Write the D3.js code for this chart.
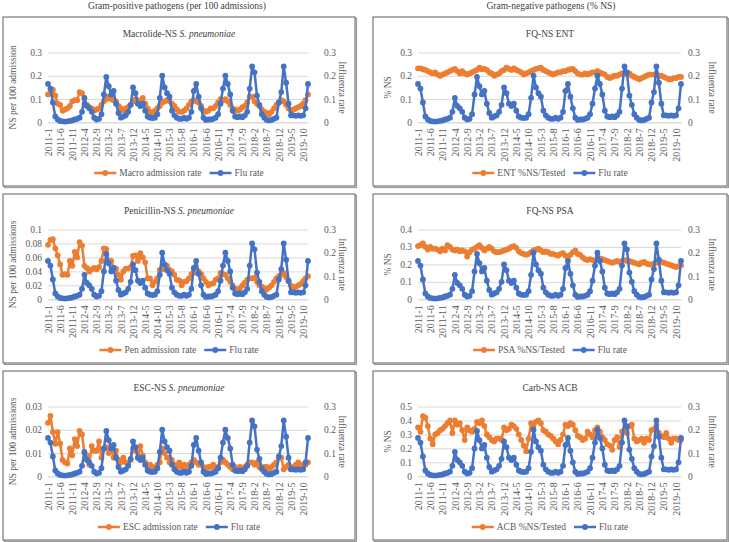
<!DOCTYPE html>
<html><head><meta charset="utf-8">
<script src="https://cdn.jsdelivr.net/npm/d3@7"></script>
<style>
body{margin:0;background:#fff;}
svg text{font-family:"Liberation Serif","Times New Roman","DejaVu Serif","Noto Serif",serif !important;}
</style></head>
<body><svg id="c" width="729" height="542"></svg>
<script>
// Monthly categories 2011-1 .. 2019-12
const years = [2011,2012,2013,2014,2015,2016,2017,2018,2019];
const months = [];
years.forEach(y => { for (let m = 1; m <= 12; m++) months.push(y + "-" + m); });

const tickLabels = ["2011-1","2011-6","2011-11","2012-4","2012-9","2013-2","2013-7","2013-12","2014-5","2014-10","2015-3","2015-8","2016-1","2016-6","2016-11","2017-4","2017-9","2018-2","2018-7","2018-12","2019-5","2019-10"];

// Influenza rate (secondary axis, same in every panel)
const fluRate = [
 0.165,0.145,0.085,0.025,0.012,0.006,0.004,0.003,0.004,0.006,0.008,0.012,
 0.015,0.020,0.045,0.105,0.070,0.060,0.045,0.020,0.012,0.015,0.035,0.120,
 0.195,0.155,0.120,0.135,0.080,0.040,0.020,0.025,0.030,0.045,0.075,0.150,
 0.125,0.080,0.070,0.080,0.050,0.025,0.020,0.018,0.020,0.035,0.105,0.200,
 0.150,0.125,0.110,0.050,0.030,0.020,0.015,0.015,0.020,0.015,0.020,0.045,
 0.135,0.165,0.110,0.060,0.020,0.010,0.012,0.012,0.015,0.020,0.035,0.080,
 0.145,0.200,0.165,0.120,0.050,0.025,0.022,0.025,0.022,0.030,0.045,0.145,
 0.240,0.215,0.115,0.075,0.035,0.020,0.010,0.008,0.010,0.015,0.020,0.085,
 0.130,0.240,0.170,0.080,0.030,0.030,0.028,0.030,0.028,0.030,0.060,0.165
];

const macroRate = [
 0.120,0.125,0.140,0.115,0.080,0.075,0.050,0.055,0.060,0.070,0.090,0.095,
 0.095,0.130,0.125,0.080,0.075,0.065,0.060,0.050,0.055,0.060,0.075,0.090,
 0.100,0.110,0.100,0.095,0.090,0.070,0.060,0.050,0.060,0.065,0.075,0.090,
 0.100,0.095,0.090,0.105,0.080,0.060,0.045,0.040,0.050,0.060,0.070,0.085,
 0.090,0.095,0.090,0.080,0.070,0.055,0.045,0.045,0.050,0.060,0.075,0.090,
 0.095,0.090,0.085,0.070,0.050,0.045,0.050,0.060,0.060,0.070,0.085,0.100,
 0.095,0.100,0.090,0.075,0.060,0.055,0.050,0.055,0.065,0.070,0.085,0.110,
 0.110,0.090,0.080,0.070,0.055,0.045,0.040,0.035,0.045,0.060,0.075,0.085,
 0.095,0.090,0.075,0.060,0.050,0.055,0.060,0.065,0.070,0.080,0.095,0.120
];

const penRate = [
 0.078,0.085,0.086,0.073,0.063,0.050,0.035,0.036,0.035,0.055,0.048,0.068,
 0.060,0.082,0.077,0.048,0.045,0.040,0.043,0.045,0.043,0.046,0.055,0.073,
 0.072,0.055,0.055,0.045,0.044,0.035,0.028,0.040,0.044,0.044,0.046,0.062,
 0.063,0.055,0.066,0.060,0.053,0.030,0.030,0.020,0.025,0.030,0.042,0.043,
 0.045,0.048,0.042,0.040,0.035,0.028,0.027,0.020,0.025,0.026,0.030,0.036,
 0.040,0.038,0.040,0.036,0.030,0.025,0.020,0.022,0.023,0.028,0.030,0.038,
 0.036,0.035,0.030,0.025,0.020,0.015,0.014,0.016,0.020,0.024,0.028,0.030,
 0.030,0.031,0.025,0.020,0.018,0.016,0.014,0.017,0.020,0.025,0.030,0.033,
 0.035,0.038,0.032,0.026,0.020,0.016,0.018,0.020,0.022,0.026,0.030,0.033
];

const escRate = [
 0.0230,0.0260,0.0190,0.0140,0.0190,0.0140,0.0070,0.0060,0.0055,0.0120,0.0090,0.0160,
 0.0130,0.0195,0.0180,0.0100,0.0090,0.0050,0.0130,0.0110,0.0110,0.0150,0.0080,0.0120,
 0.0125,0.0100,0.0110,0.0080,0.0110,0.0070,0.0060,0.0080,0.0060,0.0050,0.0070,0.0120,
 0.0110,0.0080,0.0130,0.0090,0.0060,0.0040,0.0050,0.0040,0.0030,0.0050,0.0060,0.0120,
 0.0100,0.0080,0.0060,0.0070,0.0050,0.0040,0.0060,0.0040,0.0050,0.0030,0.0050,0.0060,
 0.0070,0.0060,0.0050,0.0050,0.0040,0.0030,0.0040,0.0040,0.0050,0.0030,0.0040,0.0060,
 0.0070,0.0060,0.0050,0.0040,0.0030,0.0040,0.0030,0.0040,0.0030,0.0040,0.0050,0.0060,
 0.0060,0.0050,0.0060,0.0040,0.0030,0.0040,0.0040,0.0030,0.0040,0.0050,0.0060,0.0080,
 0.0080,0.0030,0.0040,0.0050,0.0030,0.0040,0.0050,0.0060,0.0050,0.0040,0.0050,0.0060
];

const entPct = [
 0.232,0.232,0.228,0.225,0.220,0.215,0.210,0.215,0.205,0.200,0.205,0.210,
 0.215,0.220,0.225,0.230,0.220,0.210,0.220,0.210,0.205,0.210,0.215,0.220,
 0.225,0.235,0.228,0.230,0.225,0.215,0.210,0.200,0.205,0.210,0.220,0.225,
 0.235,0.230,0.225,0.232,0.225,0.220,0.215,0.205,0.210,0.215,0.220,0.225,
 0.230,0.232,0.235,0.225,0.220,0.215,0.210,0.205,0.210,0.215,0.215,0.220,
 0.220,0.225,0.228,0.230,0.220,0.210,0.205,0.205,0.210,0.205,0.210,0.215,
 0.215,0.220,0.215,0.210,0.205,0.195,0.190,0.195,0.200,0.200,0.205,0.210,
 0.210,0.205,0.210,0.200,0.195,0.190,0.185,0.190,0.195,0.200,0.205,0.205,
 0.205,0.210,0.200,0.200,0.195,0.190,0.185,0.185,0.190,0.190,0.195,0.195
];

const psaPct = [
 0.305,0.310,0.320,0.300,0.285,0.300,0.290,0.290,0.285,0.275,0.290,0.280,
 0.310,0.300,0.285,0.280,0.285,0.275,0.280,0.275,0.245,0.270,0.285,0.290,
 0.300,0.310,0.295,0.280,0.290,0.300,0.290,0.275,0.270,0.270,0.275,0.280,
 0.285,0.290,0.300,0.305,0.295,0.275,0.265,0.260,0.255,0.260,0.270,0.280,
 0.285,0.290,0.280,0.270,0.275,0.270,0.260,0.260,0.255,0.250,0.260,0.265,
 0.250,0.240,0.255,0.270,0.280,0.260,0.255,0.240,0.230,0.225,0.230,0.225,
 0.220,0.240,0.235,0.230,0.225,0.220,0.215,0.210,0.215,0.220,0.215,0.220,
 0.225,0.220,0.220,0.215,0.210,0.205,0.200,0.210,0.215,0.205,0.200,0.200,
 0.205,0.210,0.220,0.215,0.210,0.205,0.200,0.195,0.190,0.185,0.190,0.195
];

const acbPct = [
 0.35,0.32,0.43,0.42,0.36,0.27,0.23,0.30,0.31,0.33,0.34,0.36,
 0.38,0.40,0.31,0.40,0.37,0.38,0.33,0.26,0.35,0.33,0.32,0.34,
 0.39,0.38,0.40,0.36,0.30,0.28,0.26,0.25,0.27,0.27,0.26,0.35,
 0.33,0.34,0.37,0.36,0.34,0.30,0.26,0.22,0.18,0.27,0.38,0.36,
 0.39,0.40,0.38,0.33,0.32,0.30,0.29,0.27,0.25,0.23,0.26,0.30,
 0.37,0.36,0.38,0.37,0.33,0.29,0.28,0.26,0.27,0.32,0.30,0.28,
 0.33,0.35,0.32,0.28,0.26,0.23,0.22,0.19,0.26,0.28,0.21,0.32,
 0.33,0.31,0.36,0.37,0.27,0.25,0.26,0.27,0.24,0.27,0.26,0.33,
 0.34,0.37,0.31,0.29,0.28,0.31,0.27,0.24,0.27,0.27,0.26,0.26
];

const columnTitles = ["Gram-positive pathogens (per 100 admissions)", "Gram-negative pathogens (% NS)"];
const fluName = "Flu rate";
const fluTicks = [0, 0.1, 0.2, 0.3];

const panels = [
 {col:0,row:0,title:["Macrolide-NS ","S. pneumoniae"],yTitle:"NS per 100 admission",ticks:[0,0.1,0.2,0.3],values:macroRate,name:"Macro admission rate"},
 {col:0,row:1,title:["Penicillin-NS ","S. pneumoniae"],yTitle:"NS per 100 admissions",ticks:[0,0.02,0.04,0.06,0.08,0.1],values:penRate,name:"Pen admission rate"},
 {col:0,row:2,title:["ESC-NS ","S. pneumoniae"],yTitle:"NS per 100 admissions",ticks:[0,0.01,0.02,0.03],values:escRate,name:"ESC admission rate"},
 {col:1,row:0,title:["FQ-NS ENT",""],yTitle:"% NS",ticks:[0,0.1,0.2,0.3],values:entPct,name:"ENT %NS/Tested"},
 {col:1,row:1,title:["FQ-NS PSA",""],yTitle:"% NS",ticks:[0,0.1,0.2,0.3,0.4],values:psaPct,name:"PSA %NS/Tested"},
 {col:1,row:2,title:["Carb-NS ACB",""],yTitle:"% NS",ticks:[0,0.1,0.2,0.3,0.4,0.5],values:acbPct,name:"ACB %NS/Tested"}
];

// layout
const FONT = "'Liberation Serif','Times New Roman','DejaVu Serif','Noto Serif',serif";
const ORANGE = "#ED7D31", BLUE = "#4472C4", GRID = "#D9D9D9", TXT = "#595959";
const colLayout = [
 {x:3, w:352, plotL:48, plotR:308, yTitleX:16, rLabX:324, rTitleX:339, headX:177},
 {x:373, w:354, plotL:418, plotR:681, yTitleX:391, rLabX:688, rTitleX:709, headX:551}
];
const rowTops = [17, 194, 371];
const panelH = 169;

const svg = d3.select("#c").attr("font-family", FONT);
const fmt = d => d === 0 ? "0" : String(+d.toFixed(3));

columnTitles.forEach((t,i) => {
  svg.append("text").attr("x", colLayout[i].headX).attr("y", 9)
    .attr("text-anchor","middle").attr("font-size",9.5).attr("fill","#404040").text(t);
});

panels.forEach(p => {
  const L = colLayout[p.col];
  const top = rowTops[p.row];
  const g = svg.append("g");
  // frame
  g.append("rect").attr("x", L.x+1.5).attr("y", top+1.5).attr("width", L.w).attr("height", panelH)
    .attr("fill","none").attr("stroke","#9a9a9a").attr("stroke-width",1.2);
  g.append("rect").attr("x", L.x).attr("y", top).attr("width", L.w).attr("height", panelH)
    .attr("fill","#fff").attr("stroke","#5f5f5f").attr("stroke-width",1);

  const yTop = top + 35.5, yZero = top + 105.3;
  const x = d3.scalePoint().domain(months).range([L.plotL, L.plotR]);
  const yL = d3.scaleLinear().domain([0, p.ticks[p.ticks.length-1]]).range([yZero, yTop]);
  const yR = d3.scaleLinear().domain([0, 0.3]).range([yZero, yTop]);

  // title
  const tt = g.append("text").attr("x", L.x + L.w/2).attr("y", top + 19.5)
    .attr("text-anchor","middle").attr("font-size",9.5).attr("fill","#404040");
  tt.append("tspan").text(p.title[0]);
  if (p.title[1]) tt.append("tspan").attr("font-style","italic").text(p.title[1]);

  // gridlines + left axis
  const axL = d3.axisLeft(yL).tickValues(p.ticks).tickFormat(fmt).tickSize(-(L.plotR - L.plotL)).tickPadding(6);
  const gl = g.append("g").attr("transform", `translate(${L.plotL},0)`).call(axL).attr("font-family", FONT);
  gl.select(".domain").remove();
  gl.selectAll(".tick line").attr("stroke", GRID).attr("stroke-width",1);
  gl.selectAll(".tick text").attr("fill", TXT).attr("font-size",9.5);

  // right axis
  const axR = d3.axisRight(yR).tickValues(fluTicks).tickFormat(fmt).tickSize(0).tickPadding(0);
  const gr = g.append("g").attr("transform", `translate(${L.rLabX},0)`).call(axR).attr("font-family", FONT);
  gr.select(".domain").remove();
  gr.selectAll(".tick text").attr("fill", TXT).attr("font-size",9.5);

  // bottom axis
  const axB = d3.axisBottom(x).tickValues(tickLabels).tickSize(0).tickPadding(0);
  const gb = g.append("g").attr("transform", `translate(0,${yZero})`).call(axB).attr("font-family", FONT);
  gb.select(".domain").attr("stroke", GRID);
  gb.selectAll(".tick text").attr("fill", TXT).attr("font-size",10)
    .attr("text-anchor","end").attr("transform","rotate(-90)").attr("x",-6).attr("dy","0.32em").attr("y",0);

  // axis titles
  g.append("text").attr("transform", `translate(${L.yTitleX},${(yTop+yZero)/2}) rotate(-90)`)
    .attr("text-anchor","middle").attr("font-size",9.5).attr("fill",TXT).text(p.yTitle);
  g.append("text").attr("transform", `translate(${L.rTitleX},${(yTop+yZero)/2}) rotate(90)`)
    .attr("text-anchor","middle").attr("font-size",9.5).attr("fill",TXT).text("Influenza rate");

  // series
  const drawSeries = (vals, y, color) => {
    const line = d3.line().x((d,i) => x(months[i])).y(d => y(d));
    g.append("path").datum(vals).attr("d", line).attr("fill","none")
      .attr("stroke", color).attr("stroke-width",2.5).attr("stroke-linejoin","round");
    g.append("g").selectAll("circle").data(vals).join("circle")
      .attr("cx",(d,i) => x(months[i])).attr("cy", d => y(d)).attr("r",2.9).attr("fill", color);
  };
  drawSeries(p.values, yL, ORANGE);
  drawSeries(fluRate, yR, BLUE);

  // legend
  const lg = g.append("g");
  const items = [{name:p.name,color:ORANGE},{name:fluName,color:BLUE}];
  let cx = 0;
  items.forEach((it,k) => {
    const ig = lg.append("g").attr("transform", `translate(${cx},0)`);
    ig.append("line").attr("x1",0).attr("x2",22).attr("y1",0).attr("y2",0).attr("stroke",it.color).attr("stroke-width",2.5);
    ig.append("circle").attr("cx",11).attr("cy",0).attr("r",2.9).attr("fill",it.color);
    const t = ig.append("text").attr("x",25).attr("y",0).attr("dy","0.35em").attr("font-size",9.5).attr("fill",TXT).text(it.name);
    cx += 25 + t.node().getComputedTextLength() + (k === 0 ? 8 : 0);
  });
  lg.attr("transform", `translate(${L.x + L.w/2 - cx/2},${top + 156})`);
});
</script></body></html>
